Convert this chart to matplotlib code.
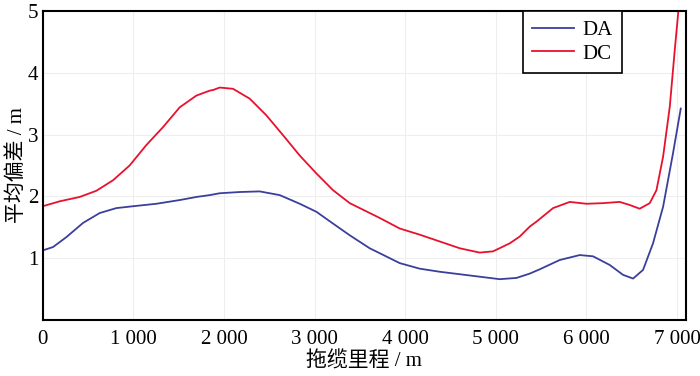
import matplotlib
matplotlib.use("Agg")
import matplotlib.pyplot as plt
from matplotlib.ticker import FuncFormatter

plt.rcParams['font.family'] = ['Liberation Serif', 'Noto Sans CJK SC']

# 拖缆里程 (m) / 平均偏差 (m)
da_x = [10, 114, 261, 445, 629, 813, 997, 1255, 1512, 1696, 1843, 1954, 2174,
        2395, 2616, 2837, 3021, 3204, 3389, 3609, 3720, 3940, 4161, 4382, 4603,
        4823, 5044, 5228, 5375, 5486, 5706, 5927, 6074, 6258, 6405, 6516, 6626,
        6736, 6847, 6957, 7042]
da_y = [1.13, 1.18, 1.34, 1.57, 1.73, 1.81, 1.84, 1.88, 1.94, 1.99, 2.02, 2.05, 2.07,
        2.08, 2.02, 1.88, 1.75, 1.56, 1.37, 1.16, 1.08, 0.92, 0.83, 0.78, 0.74,
        0.70, 0.66, 0.68, 0.75, 0.82, 0.97, 1.05, 1.03, 0.89, 0.73, 0.67, 0.81,
        1.24, 1.83, 2.70, 3.42]

dc_x = [0, 188, 408, 592, 776, 960, 1144, 1328, 1512, 1696, 1843, 1880, 1954,
        2100, 2285, 2469, 2652, 2837, 3021, 3204, 3389, 3499, 3720, 3940, 4161,
        4382, 4603, 4823, 4970, 5155, 5265, 5375, 5449, 5633, 5817, 6001, 6184,
        6368, 6479, 6589, 6700, 6774, 6847, 6921, 6976, 7016]
dc_y = [1.84, 1.92, 1.99, 2.09, 2.26, 2.50, 2.83, 3.12, 3.44, 3.63, 3.71, 3.72, 3.76,
        3.74, 3.58, 3.31, 2.99, 2.66, 2.37, 2.10, 1.89, 1.81, 1.65, 1.48, 1.38,
        1.27, 1.16, 1.09, 1.11, 1.24, 1.35, 1.51, 1.59, 1.81, 1.91, 1.88, 1.89,
        1.91, 1.86, 1.80, 1.89, 2.10, 2.64, 3.45, 4.37, 5.0]

fig = plt.figure(figsize=(7.0, 3.76), dpi=100)
ax = fig.add_axes([0.061, 0.149, 0.919, 0.822])

ax.plot(da_x, da_y, color='#3b3f9c', lw=1.3, label='DA')
ax.plot(dc_x, dc_y, color='#e8112d', lw=1.3, label='DC')

ax.set_xlim(0, 7100)
ax.set_ylim(0, 5)
ax.set_xticks(range(0, 7001, 1000))
ax.set_yticks([0, 1, 2, 3, 4, 5])
ax.xaxis.set_major_formatter(FuncFormatter(lambda v, p: f"{int(v):,}".replace(',', ' ')))
ax.yaxis.set_major_formatter(FuncFormatter(lambda v, p: '' if v == 0 else f"{int(v)}"))
ax.tick_params(length=0, labelsize=15)
ax.tick_params(axis='x', pad=7)
ax.tick_params(axis='y', pad=3)
ax.grid(True, color='#eeeeee', lw=0.8)
ax.set_axisbelow(True)
for s in ax.spines.values():
    s.set_linewidth(1.5)
    s.set_color('black')

ax.set_xlabel('拖缆里程 / m', fontsize=15, labelpad=2)
ax.set_ylabel('平均偏差 / m', fontsize=15, labelpad=1)

leg = ax.legend(loc='upper right', bbox_to_anchor=(0.90, 1.0), borderaxespad=0,
                fontsize=15, fancybox=False, edgecolor='black', framealpha=1,
                handlelength=2.0, handletextpad=0.4, labelspacing=0.2, borderpad=0.45)
leg.get_frame().set_linewidth(1.2)

fig.savefig('out.png', dpi=100)
